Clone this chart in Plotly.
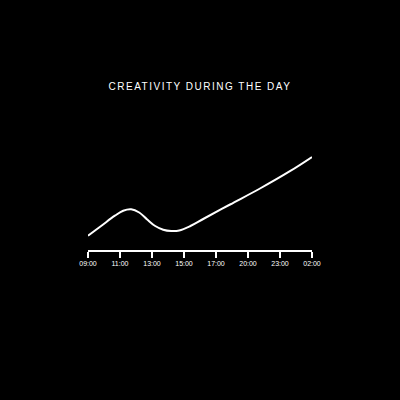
import plotly.graph_objects as go

# hour slots along the x axis (evenly spaced categories)
tick_labels = ["09:00", "11:00", "13:00", "15:00", "17:00", "20:00", "23:00", "02:00"]
tick_pos = list(range(len(tick_labels)))

# creativity curve (x in tick-slot units)
curve_x = [0.0, 0.42, 0.84, 1.1, 1.35, 1.6, 1.85, 2.1, 2.35, 2.6, 2.85,
           3.2, 3.6, 4.44, 5.375, 6.31, 7.0]
curve_y = [14.3, 24.3, 34.3, 39.3, 40.7, 37.5, 30.5, 24.0, 20.3, 19.0, 19.5,
           24.0, 31.0, 45.5, 61.5, 78.8, 93.0]

fig = go.Figure(go.Scatter(
    x=curve_x, y=curve_y,
    mode="lines",
    line=dict(color="white", width=2, shape="spline", smoothing=1.0),
    hoverinfo="skip",
))

fig.update_layout(
    width=400, height=400,
    paper_bgcolor="black", plot_bgcolor="black",
    margin=dict(l=88, r=88, t=150, b=150),
    showlegend=False,
    title=dict(
        text='<span style="letter-spacing:1.5px">CREATIVITY DURING THE DAY</span>',
        x=0.5, xanchor="center",
        yref="container", y=1 - 86 / 400, yanchor="middle",
        font=dict(family="Liberation Sans", size=10, color="white"),
    ),
)

fig.update_xaxes(
    range=[0, 7],
    tickvals=tick_pos, ticktext=tick_labels,
    showgrid=False, zeroline=False,
    showline=True, linecolor="white", linewidth=1.5,
    ticks="outside", ticklen=6, tickwidth=1.5, tickcolor="white",
    tickfont=dict(family="Liberation Sans", size=7, color="white"),
)
fig.update_yaxes(range=[0, 100], visible=False)

fig.write_html(
    "out.html",
    config={"displayModeBar": False},
    post_script="document.body.style.margin='0';document.body.style.background='black';",
)
